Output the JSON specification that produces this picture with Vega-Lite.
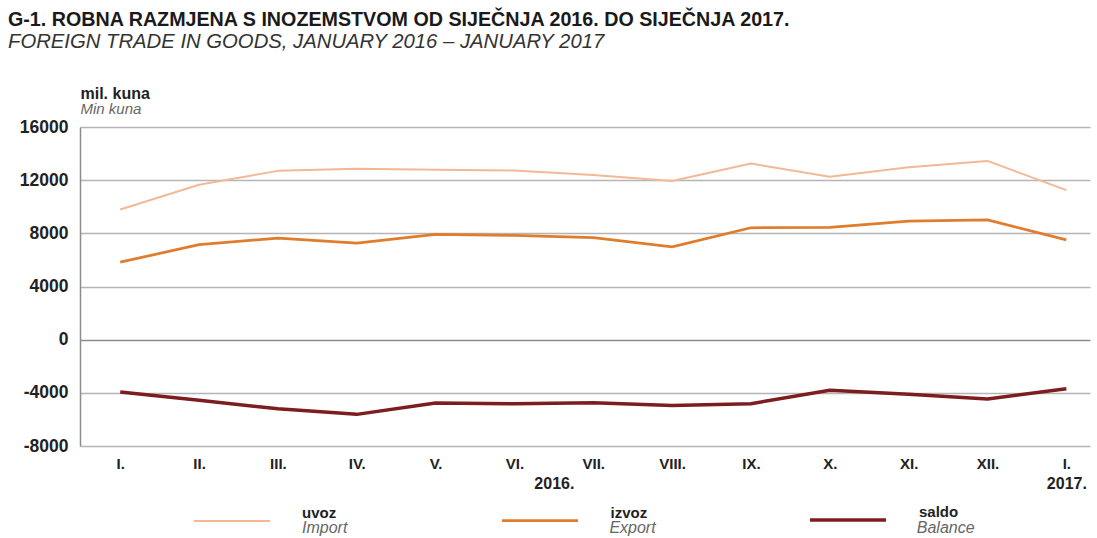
{
  "$schema": "https://vega.github.io/schema/vega-lite/v6.json",
  "width": 1010,
  "height": 319,
  "padding": {"left": 8, "top": 10, "right": 7, "bottom": 0},
  "background": "white",
  "title": {
    "text": "G-1. ROBNA RAZMJENA S INOZEMSTVOM OD SIJEČNJA 2016. DO SIJEČNJA 2017.",
    "subtitle": "\u2003\u2003\u2002\u2005FOREIGN TRADE IN GOODS, JANUARY 2016 – JANUARY 2017",
    "anchor": "start",
    "frame": "group",
    "dx": -72,
    "font": "Liberation Sans",
    "fontSize": 19.7,
    "fontWeight": "bold",
    "color": "#1a1a1a",
    "subtitleFont": "Liberation Sans",
    "subtitleFontSize": 20.3,
    "subtitleFontStyle": "italic",
    "subtitleColor": "#333333",
    "subtitlePadding": 2,
    "offset": 33
  },
  "data": {
    "values": [
      {"m": 0, "series": "uvoz", "en": "Import", "v": 9790},
      {"m": 1, "series": "uvoz", "en": "Import", "v": 11650},
      {"m": 2, "series": "uvoz", "en": "Import", "v": 12700},
      {"m": 3, "series": "uvoz", "en": "Import", "v": 12860},
      {"m": 4, "series": "uvoz", "en": "Import", "v": 12780},
      {"m": 5, "series": "uvoz", "en": "Import", "v": 12720},
      {"m": 6, "series": "uvoz", "en": "Import", "v": 12380},
      {"m": 7, "series": "uvoz", "en": "Import", "v": 11930},
      {"m": 8, "series": "uvoz", "en": "Import", "v": 13250},
      {"m": 9, "series": "uvoz", "en": "Import", "v": 12250},
      {"m": 10, "series": "uvoz", "en": "Import", "v": 12980},
      {"m": 11, "series": "uvoz", "en": "Import", "v": 13450},
      {"m": 12, "series": "uvoz", "en": "Import", "v": 11250},
      {"m": 0, "series": "izvoz", "en": "Export", "v": 5830},
      {"m": 1, "series": "izvoz", "en": "Export", "v": 7150},
      {"m": 2, "series": "izvoz", "en": "Export", "v": 7640},
      {"m": 3, "series": "izvoz", "en": "Export", "v": 7260},
      {"m": 4, "series": "izvoz", "en": "Export", "v": 7920},
      {"m": 5, "series": "izvoz", "en": "Export", "v": 7850},
      {"m": 6, "series": "izvoz", "en": "Export", "v": 7670},
      {"m": 7, "series": "izvoz", "en": "Export", "v": 6980},
      {"m": 8, "series": "izvoz", "en": "Export", "v": 8420},
      {"m": 9, "series": "izvoz", "en": "Export", "v": 8440},
      {"m": 10, "series": "izvoz", "en": "Export", "v": 8920},
      {"m": 11, "series": "izvoz", "en": "Export", "v": 9010},
      {"m": 12, "series": "izvoz", "en": "Export", "v": 7510},
      {"m": 0, "series": "saldo", "en": "Balance", "v": -3930},
      {"m": 1, "series": "saldo", "en": "Balance", "v": -4560},
      {"m": 2, "series": "saldo", "en": "Balance", "v": -5200},
      {"m": 3, "series": "saldo", "en": "Balance", "v": -5620},
      {"m": 4, "series": "saldo", "en": "Balance", "v": -4760},
      {"m": 5, "series": "saldo", "en": "Balance", "v": -4820},
      {"m": 6, "series": "saldo", "en": "Balance", "v": -4740},
      {"m": 7, "series": "saldo", "en": "Balance", "v": -4950},
      {"m": 8, "series": "saldo", "en": "Balance", "v": -4820},
      {"m": 9, "series": "saldo", "en": "Balance", "v": -3800},
      {"m": 10, "series": "saldo", "en": "Balance", "v": -4100},
      {"m": 11, "series": "saldo", "en": "Balance", "v": -4470},
      {"m": 12, "series": "saldo", "en": "Balance", "v": -3690}
    ]
  },
  "layer": [
    {
      "mark": {"type": "line", "strokeOpacity": 0},
      "encoding": {
        "x": {
          "field": "m",
          "type": "quantitative",
          "scale": {"domain": [-0.51, 12.3], "nice": false, "zero": false},
          "axis": {
            "orient": "bottom",
            "values": [5.5, 12],
            "labelExpr": "datum.value == 12 ? '2017.' : '2016.'",
            "grid": false,
            "domain": false,
            "ticks": false,
            "title": null,
            "offset": 21,
            "labelPadding": 8,
            "labelFont": "Liberation Sans",
            "labelFontWeight": "bold",
            "labelFontSize": 16,
            "labelColor": "#222222"
          }
        },
        "y": {
          "field": "v",
          "type": "quantitative",
          "scale": {"domain": [-8000, 16000], "nice": false},
          "axis": {
            "orient": "left",
            "labels": false,
            "grid": false,
            "domain": false,
            "ticks": false,
            "title": "Min kuna",
            "titleAngle": 0,
            "titleAlign": "left",
            "titleBaseline": "alphabetic",
            "titleX": 0,
            "titleY": -14,
            "titleFont": "Liberation Sans",
            "titleFontSize": 15,
            "titleFontStyle": "italic",
            "titleFontWeight": "normal",
            "titleColor": "#666666"
          }
        },
        "strokeDash": {
          "field": "en",
          "type": "nominal",
          "scale": {"domain": ["Import", "Export", "Balance"], "range": [[1, 0], [1, 0], [1, 0]]},
          "legend": {
            "orient": "none",
            "direction": "horizontal",
            "legendX": 113,
            "legendY": 362,
            "title": null,
            "padding": 0,
            "symbolType": "stroke",
            "symbolSize": 5776,
            "symbolOpacity": 0,
            "symbolStrokeColor": "transparent",
            "labelOffset": 31,
            "gridAlign": "all",
            "columnPadding": 140.4,
            "labelFont": "Liberation Sans",
            "labelFontSize": 16,
            "labelFontStyle": "italic",
            "labelColor": "#666666",
            "labelBaseline": "middle"
          }
        }
      }
    },
    {
      "mark": {"type": "line", "strokeJoin": "round"},
      "encoding": {
        "x": {
          "field": "m",
          "type": "quantitative",
          "axis": {
            "orient": "bottom",
            "values": [0, 1, 2, 3, 4, 5, 6, 7, 8, 9, 10, 11, 12],
            "labelExpr": "['I.','II.','III.','IV.','V.','VI.','VII.','VIII.','IX.','X.','XI.','XII.','I.'][datum.value]",
            "grid": false,
            "domain": false,
            "ticks": false,
            "title": null,
            "labelPadding": 10,
            "labelFont": "Liberation Sans",
            "labelFontWeight": "bold",
            "labelFontSize": 15,
            "labelColor": "#222222"
          }
        },
        "y": {
          "field": "v",
          "type": "quantitative",
          "axis": {
            "orient": "left",
            "values": [-8000, -4000, 0, 4000, 8000, 12000, 16000],
            "labelExpr": "datum.value + ''",
            "grid": true,
            "gridColor": {"condition": {"test": "datum.value === 0", "value": "#8c8c8c"}, "value": "#b5b5b5"},
            "gridWidth": 1.5,
            "domain": true,
            "domainColor": "#8c8c8c",
            "domainWidth": 1.5,
            "ticks": false,
            "labelPadding": 12,
            "labelFont": "Liberation Sans",
            "labelFontWeight": "bold",
            "labelFontSize": 17.5,
            "labelColor": "#222222",
            "title": "mil. kuna",
            "titleAngle": 0,
            "titleAlign": "left",
            "titleBaseline": "alphabetic",
            "titleX": 0,
            "titleY": -29,
            "titleFont": "Liberation Sans",
            "titleFontSize": 16,
            "titleFontWeight": "bold",
            "titleColor": "#222222"
          }
        },
        "color": {
          "field": "series",
          "type": "nominal",
          "scale": {"domain": ["uvoz", "izvoz", "saldo"], "range": ["#f3b997", "#e07d2d", "#7d1d1f"]},
          "legend": {
            "orient": "none",
            "direction": "horizontal",
            "legendX": 113,
            "legendY": 353,
            "title": null,
            "padding": 0,
            "symbolType": "stroke",
            "symbolSize": 5776,
            "labelOffset": 31,
            "gridAlign": "all",
            "columnPadding": 151.5,
            "labelFont": "Liberation Sans",
            "labelFontSize": 15,
            "labelFontWeight": "bold",
            "labelColor": "#222222",
            "labelBaseline": "bottom"
          }
        },
        "strokeWidth": {
          "field": "series",
          "type": "nominal",
          "scale": {"domain": ["uvoz", "izvoz", "saldo"], "range": [2, 3.5, 3.5]},
          "legend": null
        }
      }
    }
  ],
  "resolve": {"axis": {"x": "independent", "y": "independent"}},
  "config": {"view": {"stroke": null}}
}
